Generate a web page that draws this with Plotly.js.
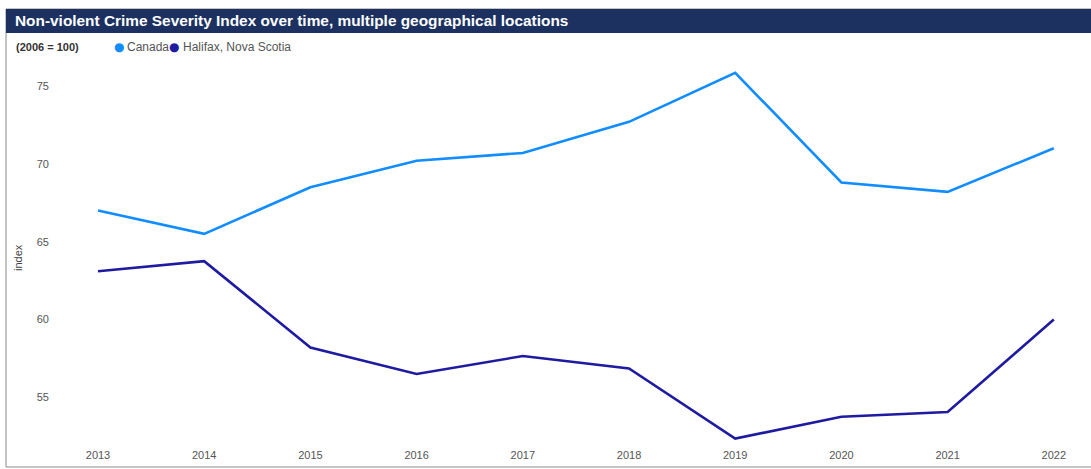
<!DOCTYPE html>
<html>
<head>
<meta charset="utf-8">
<script src="https://cdn.plot.ly/plotly-3.0.1.min.js"></script>
<style>html,body{margin:0;padding:0;background:#fff;}#chart{width:1091px;height:469px;}</style>
</head>
<body>
<div id="chart"></div>
<script>
const years = [2013, 2014, 2015, 2016, 2017, 2018, 2019, 2020, 2021, 2022];
const canada = [67.0, 65.5, 68.5, 70.2, 70.7, 72.7, 75.85, 68.8, 68.2, 71.0];
const halifax = [63.1, 63.75, 58.2, 56.5, 57.65, 56.85, 52.35, 53.75, 54.05, 60.0];
const seriesNames = ["Canada", "Halifax, Nova Scotia"];
const seriesColors = ["#118DFF", "#1F1BA0"];
const yTicks = [55, 60, 65, 70, 75];
const titleText = "Non-violent Crime Severity Index over time, multiple geographical locations";
const baseText = "(2006 = 100)";
const yTitle = "index";

const W = 1091, H = 469;
const M = {l: 50, r: 10, t: 58, b: 25, pad: 0};
const pw = W - M.l - M.r, ph = H - M.t - M.b;
const px = x => (x - M.l) / pw;
const py = y => 1 - (y - M.t) / ph;

const font = "Arial, 'Liberation Sans', sans-serif";

const traces = [canada, halifax].map((vals, i) => ({
  x: years, y: vals, type: "scatter", mode: "lines", name: seriesNames[i],
  line: {color: seriesColors[i], width: 2.6}, showlegend: false, hoverinfo: "x+y+name"
}));

const layout = {
  width: W, height: H, margin: M,
  paper_bgcolor: "#fff", plot_bgcolor: "#fff",
  font: {family: font, color: "#555", size: 11},
  title: {text: titleText, xref: "container", yref: "container",
    x: 15 / W, y: 1 - 21 / H, xanchor: "left", yanchor: "middle",
    font: {family: font, size: 15.4, color: "#fff", weight: "bold"}},
  xaxis: {range: [2012.548, 2022.256], tickvals: years, ticktext: years.map(String),
    showgrid: false, zeroline: false, showline: false, ticks: "", ticklabelstandoff: 3,
    tickfont: {size: 11, color: "#555"}, fixedrange: true},
  yaxis: {range: [52.0, 76.8], tickvals: yTicks, showgrid: false, zeroline: false,
    showline: false, ticks: "", tickfont: {size: 11, color: "#555"}, fixedrange: true},
  shapes: [
    {type: "rect", xref: "paper", yref: "paper", x0: px(6), x1: px(1100), y0: py(467), y1: py(9),
      line: {color: "#8a8a8a", width: 1}, fillcolor: "rgba(0,0,0,0)", layer: "below"},
    {type: "rect", xref: "paper", yref: "paper", x0: px(6), x1: px(1100), y0: py(33), y1: py(9),
      line: {width: 0}, fillcolor: "#1c3160", layer: "below"}
  ],
  annotations: [
    {text: "<b>" + baseText + "</b>", xref: "paper", yref: "paper", x: px(14), y: py(47),
      xanchor: "left", yanchor: "middle", showarrow: false, font: {size: 11, color: "#333"}},
    {text: "●", xref: "paper", yref: "paper", x: px(119), y: py(47.5),
      xanchor: "center", yanchor: "middle", showarrow: false,
      font: {size: 12, color: seriesColors[0], family: "DejaVu Sans"}},
    {text: seriesNames[0], xref: "paper", yref: "paper", x: px(125), y: py(47),
      xanchor: "left", yanchor: "middle", showarrow: false, font: {size: 12, color: "#555"}},
    {text: "●", xref: "paper", yref: "paper", x: px(174), y: py(47.5),
      xanchor: "center", yanchor: "middle", showarrow: false,
      font: {size: 12, color: seriesColors[1], family: "DejaVu Sans"}},
    {text: seriesNames[1], xref: "paper", yref: "paper", x: px(181), y: py(47),
      xanchor: "left", yanchor: "middle", showarrow: false, font: {size: 12, color: "#555"}},
    {text: yTitle, xref: "paper", yref: "paper", x: px(18), y: py(258), textangle: -90,
      xanchor: "center", yanchor: "middle", showarrow: false, font: {size: 11, color: "#444"}}
  ]
};

Plotly.newPlot("chart", traces, layout, {displayModeBar: false, staticPlot: true});
</script>
</body>
</html>
